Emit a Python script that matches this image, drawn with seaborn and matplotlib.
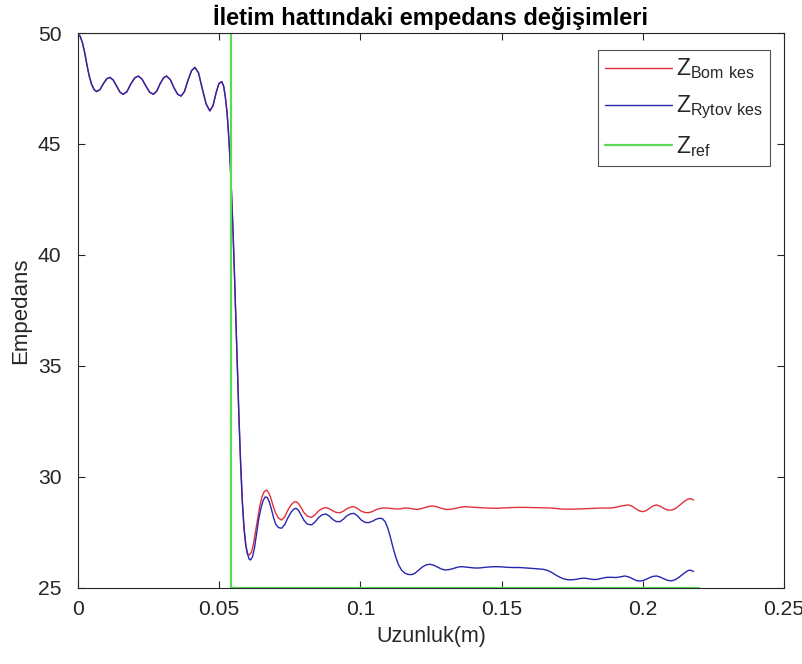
import matplotlib
matplotlib.use("Agg")
import matplotlib.pyplot as plt
from matplotlib import font_manager
import pandas as pd
import seaborn as sns

# ---- data -------------------------------------------------------------
# shared start of both profiles (identical up to the impedance step)
x_common = [0.0000, 0.0008, 0.0016, 0.0024, 0.0032, 0.0040, 0.0048, 0.0057,
            0.0066, 0.0078, 0.0090, 0.0102, 0.0113, 0.0125, 0.0137, 0.0149,
            0.0160, 0.0173, 0.0187, 0.0201, 0.0214, 0.0227, 0.0240, 0.0254,
            0.0267, 0.0279, 0.0291, 0.0303, 0.0314, 0.0327, 0.0340, 0.0353,
            0.0365, 0.0377, 0.0389, 0.0402, 0.0414, 0.0427, 0.0440, 0.0454,
            0.0467, 0.0478, 0.0489, 0.0499, 0.0509, 0.0516, 0.0522, 0.0528,
            0.0534, 0.0540, 0.0546, 0.0552, 0.0558, 0.0564, 0.0570, 0.0576,
            0.0582, 0.0588, 0.0594, 0.0600]
z_common = [49.95, 49.85, 49.55, 49.10, 48.55, 48.05, 47.70, 47.45,
            47.36, 47.45, 47.72, 47.94, 48.00, 47.88, 47.60, 47.33,
            47.24, 47.35, 47.70, 47.98, 48.06, 47.92, 47.62, 47.33,
            47.24, 47.38, 47.72, 47.98, 48.06, 47.90, 47.53, 47.24,
            47.16, 47.36, 47.85, 48.30, 48.45, 48.20, 47.50, 46.80,
            46.49, 46.72, 47.30, 47.72, 47.81, 47.60, 47.10, 46.40,
            45.30, 43.90, 42.10, 40.00, 37.60, 35.10, 32.70, 30.60,
            28.90, 27.70, 26.95, 26.55]

x_bom_tail = [0.0607, 0.0614, 0.0621, 0.0628, 0.0636, 0.0644, 0.0652, 0.0660,
              0.0668, 0.0675, 0.0683, 0.0691, 0.0699, 0.0710, 0.0721, 0.0732,
              0.0743, 0.0755, 0.0764, 0.0772, 0.0781, 0.0791, 0.0800, 0.0812,
              0.0827, 0.0840, 0.0852, 0.0865, 0.0878, 0.0890, 0.0903, 0.0915,
              0.0928, 0.0940, 0.0952, 0.0965, 0.0977, 0.0990, 0.1003, 0.1016,
              0.1028, 0.1042, 0.1056, 0.1068, 0.1080, 0.1095, 0.1110, 0.1125,
              0.1140, 0.1155, 0.1170, 0.1185, 0.1200, 0.1215, 0.1230, 0.1245,
              0.1258, 0.1273, 0.1290, 0.1303, 0.1317, 0.1331, 0.1345, 0.1360,
              0.1376, 0.1395, 0.1420, 0.1450, 0.1480, 0.1515, 0.1550, 0.1585,
              0.1620, 0.1650, 0.1680, 0.1700, 0.1720, 0.1750, 0.1780, 0.1815,
              0.1850, 0.1880, 0.1900, 0.1925, 0.1949, 0.1963, 0.1976, 0.1990,
              0.2000, 0.2012, 0.2025, 0.2037, 0.2049, 0.2062, 0.2075, 0.2089,
              0.2102, 0.2116, 0.2130, 0.2145, 0.2161, 0.2170, 0.2180]
z_bom_tail = [26.49, 26.60, 26.95, 27.50, 28.10, 28.70, 29.12, 29.35,
              29.41, 29.30, 29.05, 28.70, 28.40, 28.15, 28.06, 28.20,
              28.50, 28.75, 28.86, 28.89, 28.80, 28.60, 28.40, 28.24,
              28.18, 28.30, 28.47, 28.58, 28.62, 28.57, 28.47, 28.40,
              28.39, 28.46, 28.57, 28.64, 28.66, 28.58, 28.46, 28.40,
              28.39, 28.44, 28.53, 28.58, 28.60, 28.60, 28.58, 28.56,
              28.56, 28.60, 28.60, 28.56, 28.54, 28.57, 28.63, 28.68,
              28.69, 28.65, 28.58, 28.54, 28.54, 28.57, 28.61, 28.65,
              28.66, 28.64, 28.62, 28.60, 28.59, 28.61, 28.63, 28.63,
              28.62, 28.61, 28.60, 28.57, 28.55, 28.55, 28.56, 28.58,
              28.60, 28.60, 28.62, 28.70, 28.74, 28.68, 28.56, 28.46,
              28.44, 28.48, 28.60, 28.70, 28.74, 28.68, 28.58, 28.51,
              28.51, 28.58, 28.72, 28.88, 29.01, 29.02, 28.96]

x_rytov_tail = [0.0606, 0.0611, 0.0618, 0.0625, 0.0632, 0.0640, 0.0648, 0.0656,
                0.0663, 0.0670, 0.0677, 0.0685, 0.0693, 0.0700, 0.0710, 0.0721,
                0.0732, 0.0743, 0.0755, 0.0764, 0.0772, 0.0781, 0.0791, 0.0800,
                0.0812, 0.0827, 0.0840, 0.0852, 0.0865, 0.0878, 0.0890, 0.0903,
                0.0915, 0.0928, 0.0940, 0.0952, 0.0965, 0.0977, 0.0990, 0.1003,
                0.1016, 0.1028, 0.1042, 0.1056, 0.1068, 0.1078, 0.1088, 0.1097,
                0.1106, 0.1115, 0.1125, 0.1135, 0.1146, 0.1158, 0.1170, 0.1181,
                0.1193, 0.1206, 0.1220, 0.1233, 0.1246, 0.1259, 0.1272, 0.1286,
                0.1300, 0.1315, 0.1330, 0.1345, 0.1359, 0.1375, 0.1390, 0.1405,
                0.1420, 0.1435, 0.1450, 0.1477, 0.1500, 0.1520, 0.1545, 0.1565,
                0.1590, 0.1610, 0.1630, 0.1648, 0.1665, 0.1680, 0.1695, 0.1707,
                0.1720, 0.1735, 0.1750, 0.1765, 0.1780, 0.1795, 0.1810, 0.1825,
                0.1840, 0.1856, 0.1872, 0.1888, 0.1905, 0.1920, 0.1937, 0.1952,
                0.1965, 0.1978, 0.1990, 0.2005, 0.2020, 0.2035, 0.2049, 0.2062,
                0.2075, 0.2089, 0.2102, 0.2116, 0.2130, 0.2145, 0.2161, 0.2170,
                0.2180]
z_rytov_tail = [26.30, 26.26, 26.40, 26.80, 27.40, 28.10, 28.60, 28.95,
                29.10, 29.08, 28.90, 28.55, 28.15, 27.88, 27.72, 27.69,
                27.85, 28.15, 28.42, 28.55, 28.59, 28.50, 28.27, 28.05,
                27.88, 27.84, 27.98, 28.17, 28.30, 28.33, 28.24, 28.08,
                27.99, 27.99, 28.10, 28.25, 28.34, 28.36, 28.25, 28.06,
                27.96, 27.94, 28.00, 28.10, 28.14, 28.12, 27.98, 27.70,
                27.30, 26.85, 26.40, 26.05, 25.80, 25.66, 25.61, 25.60,
                25.66, 25.80, 25.95, 26.04, 26.07, 26.03, 25.95, 25.86,
                25.81, 25.83, 25.88, 25.94, 25.96, 25.94, 25.92, 25.90,
                25.90, 25.92, 25.94, 25.96, 25.95, 25.93, 25.92, 25.92,
                25.90, 25.88, 25.86, 25.84, 25.78, 25.68, 25.56, 25.48,
                25.41, 25.37, 25.37, 25.39, 25.43, 25.44, 25.41, 25.38,
                25.39, 25.44, 25.48, 25.48, 25.47, 25.50, 25.54, 25.49,
                25.41, 25.33, 25.31, 25.35, 25.44, 25.52, 25.54, 25.49,
                25.41, 25.34, 25.32, 25.38, 25.50, 25.65, 25.79, 25.80,
                25.74]

# reference step profile
x_ref = [0.0, 0.0543, 0.0543, 0.22]
z_ref = [50.0, 50.0, 25.0, 25.0]

series_labels = [r"$\mathregular{Z_{Bom\ kes}}$",
                 r"$\mathregular{Z_{Rytov\ kes}}$",
                 r"$\mathregular{Z_{ref}}$"]
x_ticks = [0, 0.05, 0.1, 0.15, 0.2, 0.25]
x_tick_labels = ["0", "0.05", "0.1", "0.15", "0.2", "0.25"]
y_ticks = [25, 30, 35, 40, 45, 50]

# ---- frames -----------------------------------------------------------
df_bom = pd.DataFrame({"x": x_common + x_bom_tail, "z": z_common + z_bom_tail})
df_rytov = pd.DataFrame({"x": x_common + x_rytov_tail, "z": z_common + z_rytov_tail})
df_ref = pd.DataFrame({"x": x_ref, "z": z_ref})

# ---- style ------------------------------------------------------------
sns.set_style("ticks")
installed = {f.name for f in font_manager.fontManager.ttflist}
if "Liberation Sans Narrow" in installed:
    base_font, k = "Liberation Sans Narrow", 1.15
else:
    base_font, k = "Liberation Sans", 1.0
plt.rcParams["font.family"] = [base_font, "DejaVu Sans"]
plt.rcParams["mathtext.fontset"] = "custom"
plt.rcParams["mathtext.rm"] = base_font
dark = "#262626"

fig = plt.figure(figsize=(8.03, 6.64), dpi=100)
ax = fig.add_axes([0.0971, 0.1145, 0.8792, 0.8358])

sns.lineplot(data=df_bom, x="x", y="z", ax=ax, sort=False, estimator=None,
             color="#e0323c", linewidth=1.0, label=series_labels[0])
sns.lineplot(data=df_rytov, x="x", y="z", ax=ax, sort=False, estimator=None,
             color="#2626b0", linewidth=1.0, label=series_labels[1])
sns.lineplot(data=df_ref, x="x", y="z", ax=ax, sort=False, estimator=None,
             color="#5ad85a", linewidth=1.6, label=series_labels[2])

ax.set_xlim(0, 0.25)
ax.set_ylim(25, 50)
ax.set_xticks(x_ticks)
ax.set_xticklabels(x_tick_labels)
ax.set_yticks(y_ticks)

ax.tick_params(direction="in", top=True, right=True, length=5, width=0.8,
               colors=dark, labelsize=15.2 * k)
ax.tick_params(axis="x", pad=9)
ax.tick_params(axis="y", pad=12)
for s in ax.spines.values():
    s.set_color(dark)
    s.set_linewidth(0.8)

ax.set_xlabel("Uzunluk(m)", fontsize=15.5 * k, color=dark, labelpad=5)
ax.set_ylabel("Empedans", fontsize=16 * k, color=dark, labelpad=5)
ax.set_title("İletim hattındaki empedans değişimleri", fontsize=17 * k,
             fontweight="bold", color="black", pad=6)

leg = ax.legend(loc="upper right", bbox_to_anchor=(0.98, 0.97),
                fontsize=16.5 * k, frameon=True, fancybox=False,
                handlelength=2.9, borderpad=0.3, labelspacing=0.55,
                handletextpad=0.2, borderaxespad=0.0)
leg.get_frame().set_edgecolor(dark)
leg.get_frame().set_linewidth(0.8)

fig.savefig("out.png", dpi=100)
